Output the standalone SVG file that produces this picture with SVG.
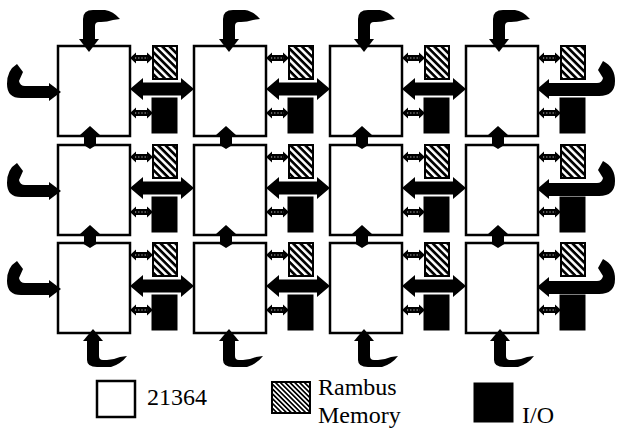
<svg xmlns="http://www.w3.org/2000/svg" width="619" height="430" viewBox="0 0 619 430">
<style>
.proc{fill:#fff;stroke:#000;stroke-width:2.5}
.mem{fill:url(#hatch);stroke:#000;stroke-width:2}
.io{fill:#000;stroke:#000;stroke-width:1}
.k{fill:#000}
.dot{stroke:#fff;stroke-width:0.8;stroke-dasharray:1.2 2;fill:none}
text{font-family:"Liberation Serif","Times New Roman",serif;font-size:24px;fill:#000}
</style>
<defs>
<pattern id="hatch" patternUnits="userSpaceOnUse" width="5.2" height="5.2" patternTransform="rotate(45)"><rect width="5.2" height="5.2" fill="#fff"/><rect width="5.2" height="2.7" fill="#000"/></pattern>
<pattern id="hatch2" patternUnits="userSpaceOnUse" width="3.4" height="3.4" patternTransform="rotate(45)"><rect width="3.4" height="3.4" fill="#fff"/><rect width="3.4" height="1.7" fill="#000"/></pattern>
<g id="big"><path class="k" d="M0,0 L13,-11 L13,-6.5 L51,-6.5 L51,-11 L64,0 L51,11 L51,6.5 L13,6.5 L13,11 Z"/></g>
<g id="sm"><path class="k" d="M0,0 L6,-5.5 L6,-3 L17,-3 L17,-5.5 L23,0 L17,5.5 L17,3 L6,3 L6,5.5 Z"/><path class="dot" d="M5,0 L18,0"/></g>
<g id="vert"><path class="k" d="M0,-10 L10,-1 L6,-1 L6,8 L8,8 L0,13 L-8,8 L-6,8 L-6,-1 L-10,-1 Z"/></g>
<g id="curlL"><path class="k" d="M0,0 L-12,-9 L-12,9 Z"/><path class="k" d="M-11,-6 L-36,-6 Q-41,-6 -42,-11 L-38,-20 L-44,-28 Q-54,-22 -54,-8 Q-54,6 -40,6 L-11,6 Z"/></g>
<g id="curlR"><path class="k" d="M0,0 L12,-10 L12,10 Z"/><path class="k" d="M11,-6 L60,-6 Q65,-6 66,-11 L61,-19 L66,-28 Q78,-22 78,-8 Q78,7 62,7 L11,7 Z"/></g>
<g id="curlT"><path class="k" d="M-10,-7 L10,-7 L0,6 Z"/><path class="k" d="M-6,-6 L-6,-27 Q-6,-36 4,-36 L16,-36 Q24,-35 31,-27 L24,-26 Q18,-24 12,-24 L10,-24 Q6,-24 6,-20 L6,-6 Z"/></g>
<g id="curlB"><path class="k" d="M-10,8 L10,8 L0,-4 Z"/><path class="k" d="M-6,7 L-6,27 Q-6,34 4,34 L18,34 Q28,31 34,23 L27,24 Q20,27 14,27 L10,27 Q6,27 6,23 L6,7 Z"/></g>
</defs>
<rect width="619" height="430" fill="#fff"/>

<!-- processors -->
<g id="p11"><rect class="proc" x="58" y="46" width="72" height="90"/></g>
<g id="p12"><rect class="proc" x="194" y="46" width="72" height="90"/></g>
<g id="p13"><rect class="proc" x="330" y="46" width="72" height="90"/></g>
<g id="p14"><rect class="proc" x="466" y="46" width="72" height="90"/></g>
<g id="p21"><rect class="proc" x="58" y="145" width="72" height="90"/></g>
<g id="p22"><rect class="proc" x="194" y="145" width="72" height="90"/></g>
<g id="p23"><rect class="proc" x="330" y="145" width="72" height="90"/></g>
<g id="p24"><rect class="proc" x="466" y="145" width="72" height="90"/></g>
<g id="p31"><rect class="proc" x="58" y="243" width="72" height="90"/></g>
<g id="p32"><rect class="proc" x="194" y="243" width="72" height="90"/></g>
<g id="p33"><rect class="proc" x="330" y="243" width="72" height="90"/></g>
<g id="p34"><rect class="proc" x="466" y="243" width="72" height="90"/></g>

<!-- memories -->
<g id="m11"><rect class="mem" x="153" y="46" width="24" height="33"/></g>
<g id="m12"><rect class="mem" x="289" y="46" width="24" height="33"/></g>
<g id="m13"><rect class="mem" x="425" y="46" width="24" height="33"/></g>
<g id="m14"><rect class="mem" x="561" y="46" width="24" height="33"/></g>
<g id="m21"><rect class="mem" x="153" y="145" width="24" height="33"/></g>
<g id="m22"><rect class="mem" x="289" y="145" width="24" height="33"/></g>
<g id="m23"><rect class="mem" x="425" y="145" width="24" height="33"/></g>
<g id="m24"><rect class="mem" x="561" y="145" width="24" height="33"/></g>
<g id="m31"><rect class="mem" x="153" y="243" width="24" height="33"/></g>
<g id="m32"><rect class="mem" x="289" y="243" width="24" height="33"/></g>
<g id="m33"><rect class="mem" x="425" y="243" width="24" height="33"/></g>
<g id="m34"><rect class="mem" x="561" y="243" width="24" height="33"/></g>

<!-- I/O -->
<g id="io11"><rect class="io" x="152" y="98" width="25" height="35"/></g>
<g id="io12"><rect class="io" x="288" y="98" width="25" height="35"/></g>
<g id="io13"><rect class="io" x="424" y="98" width="25" height="35"/></g>
<g id="io14"><rect class="io" x="560" y="98" width="25" height="35"/></g>
<g id="io21"><rect class="io" x="152" y="197" width="25" height="35"/></g>
<g id="io22"><rect class="io" x="288" y="197" width="25" height="35"/></g>
<g id="io23"><rect class="io" x="424" y="197" width="25" height="35"/></g>
<g id="io24"><rect class="io" x="560" y="197" width="25" height="35"/></g>
<g id="io31"><rect class="io" x="152" y="295" width="25" height="35"/></g>
<g id="io32"><rect class="io" x="288" y="295" width="25" height="35"/></g>
<g id="io33"><rect class="io" x="424" y="295" width="25" height="35"/></g>
<g id="io34"><rect class="io" x="560" y="295" width="25" height="35"/></g>

<g id="connectors">
<!-- horizontal mesh links -->
<use href="#big" x="130" y="89"/><use href="#big" x="266" y="89"/><use href="#big" x="402" y="89"/>
<use href="#big" x="130" y="188"/><use href="#big" x="266" y="188"/><use href="#big" x="402" y="188"/>
<use href="#big" x="130" y="286"/><use href="#big" x="266" y="286"/><use href="#big" x="402" y="286"/>
<!-- memory links -->
<use href="#sm" x="130" y="58"/><use href="#sm" x="266" y="58"/><use href="#sm" x="402" y="58"/><use href="#sm" x="538" y="58"/>
<use href="#sm" x="130" y="157"/><use href="#sm" x="266" y="157"/><use href="#sm" x="402" y="157"/><use href="#sm" x="538" y="157"/>
<use href="#sm" x="130" y="255"/><use href="#sm" x="266" y="255"/><use href="#sm" x="402" y="255"/><use href="#sm" x="538" y="255"/>
<!-- I/O links -->
<use href="#sm" x="130" y="113"/><use href="#sm" x="266" y="113"/><use href="#sm" x="402" y="113"/><use href="#sm" x="538" y="113"/>
<use href="#sm" x="130" y="212"/><use href="#sm" x="266" y="212"/><use href="#sm" x="402" y="212"/><use href="#sm" x="538" y="212"/>
<use href="#sm" x="130" y="310"/><use href="#sm" x="266" y="310"/><use href="#sm" x="402" y="310"/><use href="#sm" x="538" y="310"/>
<!-- vertical mesh links -->
<use href="#vert" x="90" y="136"/><use href="#vert" x="226" y="136"/><use href="#vert" x="362" y="136"/><use href="#vert" x="498" y="136"/>
<use href="#vert" x="90" y="235"/><use href="#vert" x="226" y="235"/><use href="#vert" x="362" y="235"/><use href="#vert" x="498" y="235"/>
<!-- wrap-around links -->
<use href="#curlL" x="61" y="92"/><use href="#curlL" x="61" y="191"/><use href="#curlL" x="61" y="289"/>
<use href="#curlR" x="537" y="89"/><use href="#curlR" x="537" y="189"/><use href="#curlR" x="537" y="287"/>
<use href="#curlT" x="89" y="46"/><use href="#curlT" x="229" y="46"/><use href="#curlT" x="364" y="46"/><use href="#curlT" x="499" y="46"/>
<use href="#curlB" x="93" y="333"/><use href="#curlB" x="229" y="333"/><use href="#curlB" x="364" y="333"/><use href="#curlB" x="500" y="333"/>
</g>

<!-- legend -->
<g id="legend-proc"><rect class="proc" x="97" y="381" width="38" height="36"/><text x="147" y="405">21364</text></g>
<g id="legend-mem"><rect x="272" y="382" width="38" height="31" fill="url(#hatch2)" stroke="#000" stroke-width="2"/><text x="318" y="395">Rambus</text><text x="318" y="423">Memory</text></g>
<g id="legend-io"><rect class="io" x="474" y="383" width="39" height="39"/><text x="522" y="423">I/O</text></g>
</svg>
